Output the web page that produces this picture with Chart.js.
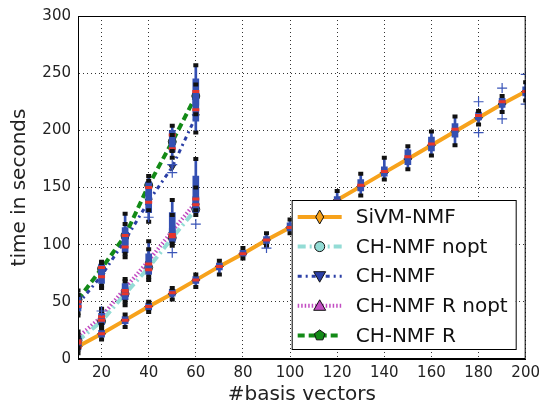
<!DOCTYPE html>
<html>
<head>
<meta charset="utf-8">
<script src="https://cdn.jsdelivr.net/npm/chart.js@4.4.1/dist/chart.umd.min.js"></script>
<style>
  html, body { margin: 0; padding: 0; background: #fff; }
  canvas { display: block; }
</style>
</head>
<body>
<canvas id="timeChart" width="545" height="415"></canvas>
<script>
// x positions (#basis vectors)
const sivmX = [10, 20, 30, 40, 50, 60, 70, 80, 90, 100, 110, 120, 130, 140, 150, 160, 170, 180, 190, 200];
const chX = [10, 20, 30, 40, 50, 60];
const xTicks = [20, 40, 60, 80, 100, 120, 140, 160, 180, 200];

// SiVM-NMF
const sivmMean = [11, 22, 34, 46, 57, 69, 81, 92, 104, 115, 127, 139, 151, 163, 175, 187, 199, 211, 223, 234];
const sivmLo   = [5, 17, 28, 41, 52, 63, 74, 88, 99, 110, 120, 132, 143, 157, 166, 178, 187, 205, 216, 226];
const sivmQ1   = [8, 19, 31, 43, 55, 66, 78, 90, 101, 112, 124, 135, 147, 160, 170, 182, 194, 209, 220, 230];
const sivmMed  = [10, 22, 34, 46, 58, 69, 81, 92, 104, 115, 127, 138, 152, 164, 177, 188, 201, 213, 225, 234];
const sivmQ3   = [14, 25, 37, 49, 61, 72, 84, 95, 107, 119, 131, 142, 157, 168, 183, 194, 206, 216, 228, 238];
const sivmHi   = [19, 28, 39, 50, 62, 74, 86, 97, 110, 122, 134, 147, 162, 176, 186, 199, 212, 217, 230, 242];

// CH-NMF nopt
const nopMean = [16, 33, 57, 80, 106, 131];
const nopLo   = [8, 27, 47, 69, 99, 126];
const nopQ1   = [11, 30, 52, 74, 102, 128];
const nopMed  = [14, 34, 57, 78, 107, 135];
const nopQ3   = [18, 38, 62, 84, 114, 142];
const nopHi   = [21, 42, 68, 96, 126, 150];

// CH-NMF
const chMean = [48, 73, 104, 138, 168, 212];
const chLo   = [38, 62, 89, 120, 176, 198];
const chQ1   = [42, 66, 93, 128, 181, 208];
const chMed  = [46, 72, 98, 137, 184, 218];
const chQ3   = [52, 78, 105, 146, 190, 228];
const chHi   = [56, 84, 118, 156, 196, 240];

// CH-NMF R nopt
const rnopMean = [19, 37, 62, 86, 112, 137];
const rnopLo   = [10, 30, 50, 72, 101, 130];
const rnopQ1   = [13, 33, 55, 78, 105, 134];
const rnopMed  = [16, 37, 60, 83, 109, 140];
const rnopQ3   = [20, 40, 66, 92, 128, 160];
const rnopHi   = [24, 44, 70, 103, 139, 175];

// CH-NMF R
const rMean = [52, 79, 108, 152, 190, 230];
const rLo   = [40, 64, 92, 130, 182, 214];
const rQ1   = [44, 74, 100, 143, 188, 222];
const rMed  = [50, 80, 108, 150, 196, 234];
const rQ3   = [56, 83, 115, 155, 200, 245];
const rHi   = [60, 85, 127, 160, 204, 257];

// outliers (+)
const outX = [20, 40, 50, 50, 50, 60, 90, 180, 180, 190, 190, 200, 200];
const outY = [42, 124, 170, 163, 93, 118, 97, 225, 198, 237, 210, 249, 223];

const BOX_BLUE = '#3450b2';
const pts = (xs, ys) => xs.map((x, i) => ({ x: x, y: ys[i] }));
const rng = (xs, a, b) => xs.map((x, i) => ({ x: x, y: [a[i], b[i]] }));

function lineSet(label, xs, ys, color, width, dash, marker, pointStyle, rotation) {
    return {
        type: 'line', label: label, data: pts(xs, ys),
        borderColor: color, borderWidth: width, borderDash: dash,
        pointStyle: pointStyle, pointRotation: rotation || 0, pointRadius: 4,
        pointBackgroundColor: color, pointBorderColor: '#222', pointBorderWidth: 1,
        fill: false, tension: 0, order: 10, legendMarker: marker
    };
}

function boxSets(xs, lo, q1, med, q3, hi) {
    return [
        { type: 'bar', data: rng(xs, lo, hi), backgroundColor: BOX_BLUE, barThickness: 2, grouped: false, order: 8 },
        { type: 'bar', data: rng(xs, q1, q3), backgroundColor: BOX_BLUE, barThickness: 6, grouped: false, order: 7 },
        { type: 'scatter', data: pts(xs, med), pointStyle: 'line', pointRadius: 3.5, borderColor: '#e6352b', borderWidth: 3, order: 6 },
        { type: 'scatter', data: pts(xs, lo).concat(pts(xs, hi)), pointStyle: 'line', pointRadius: 2.5, borderColor: '#111', borderWidth: 4, order: 5 }
    ];
}

function drawMarker(ctx, kind, x, y, color) {
    ctx.beginPath();
    if (kind === 'diamond') {
        ctx.moveTo(x, y - 7); ctx.lineTo(x + 4, y); ctx.lineTo(x, y + 7); ctx.lineTo(x - 4, y);
    } else if (kind === 'circle') {
        ctx.arc(x, y, 5, 0, Math.PI * 2);
    } else if (kind === 'tridown') {
        ctx.moveTo(x - 6, y - 4.5); ctx.lineTo(x + 6, y - 4.5); ctx.lineTo(x, y + 6);
    } else if (kind === 'triup') {
        ctx.moveTo(x - 6, y + 4.5); ctx.lineTo(x + 6, y + 4.5); ctx.lineTo(x, y - 6);
    } else {
        for (let k = 0; k < 5; k++) {
            const a = -Math.PI / 2 + k * 2 * Math.PI / 5;
            const px = x + 5.5 * Math.cos(a), py = y + 5.5 * Math.sin(a);
            if (k === 0) ctx.moveTo(px, py); else ctx.lineTo(px, py);
        }
    }
    ctx.closePath();
    ctx.fillStyle = color;
    ctx.fill();
    ctx.lineWidth = 1;
    ctx.strokeStyle = '#111';
    ctx.stroke();
}

// frame + legend box drawn on top
const framePlugin = {
    id: 'frameLegend',
    afterDraw(chart) {
        const ctx = chart.ctx;
        const a = chart.chartArea;
        ctx.save();
        ctx.strokeStyle = '#000';
        ctx.lineWidth = 1;
        ctx.strokeRect(a.left + 0.5, a.top + 0.5, a.right - a.left - 1, a.bottom - a.top - 1);

        const w = 224, h = 149;
        const lx = a.right - 10 - w, ly = a.bottom - 10 - h;
        ctx.fillStyle = '#fff';
        ctx.fillRect(lx, ly, w, h);
        ctx.strokeRect(lx + 0.5, ly + 0.5, w, h);

        const items = chart.data.datasets.filter(d => d.legendMarker);
        items.forEach((d, i) => {
            const y = ly + 17 + i * 29.6;
            ctx.setLineDash(d.borderDash || []);
            ctx.strokeStyle = d.borderColor;
            ctx.lineWidth = d.borderWidth;
            ctx.beginPath();
            ctx.moveTo(lx + 6, y);
            ctx.lineTo(lx + 50, y);
            ctx.stroke();
            ctx.setLineDash([]);
            drawMarker(ctx, d.legendMarker, lx + 28, y, d.borderColor);
            ctx.fillStyle = '#111';
            ctx.font = '20px "DejaVu Sans"';
            ctx.textBaseline = 'middle';
            ctx.fillText(d.label, lx + 64, y + 1);
        });
        ctx.restore();
    }
};

Chart.defaults.font.family = '"DejaVu Sans", sans-serif';
Chart.defaults.color = '#222';

const datasets = [
    lineSet('SiVM-NMF', sivmX, sivmMean, '#f7a21b', 4, [], 'diamond', 'rectRot'),
    lineSet('CH-NMF nopt', chX, nopMean, '#93dcd5', 4, [8, 4, 2, 4], 'circle', 'circle'),
    lineSet('CH-NMF', chX, chMean, '#2b3fa6', 3, [4, 4, 2, 4], 'tridown', 'triangle', 180),
    lineSet('CH-NMF R nopt', chX, rnopMean, '#c24dc2', 4, [1.5, 2], 'triup', 'triangle'),
    lineSet('CH-NMF R', chX, rMean, '#138a17', 4, [7, 4], 'pentagon', 'circle')
]
.concat(boxSets(sivmX, sivmLo, sivmQ1, sivmMed, sivmQ3, sivmHi))
.concat(boxSets(chX, nopLo, nopQ1, nopMed, nopQ3, nopHi))
.concat(boxSets(chX, chLo, chQ1, chMed, chQ3, chHi))
.concat(boxSets(chX, rnopLo, rnopQ1, rnopMed, rnopQ3, rnopHi))
.concat(boxSets(chX, rLo, rQ1, rMed, rQ3, rHi))
.concat([{ type: 'scatter', data: pts(outX, outY), pointStyle: 'cross', pointRadius: 5, borderColor: '#3a55b8', borderWidth: 1.2, order: 4 }]);

new Chart(document.getElementById('timeChart'), {
    type: 'bar',
    data: { datasets: datasets },
    options: {
        responsive: false,
        animation: false,
        layout: { padding: { top: 13, right: 19, left: 0, bottom: 0 } },
        plugins: { legend: { display: false }, tooltip: { enabled: false } },
        scales: {
            x: {
                type: 'linear', min: 10, max: 200, offset: false,
                afterBuildTicks: s => { s.ticks = xTicks.map(v => ({ value: v })); },
                afterFit: s => { s.height = 56; },
                grid: { color: '#333', lineWidth: 1, drawTicks: false, offset: false },
                border: { color: '#000', dash: [1, 3] },
                ticks: { font: { size: 15 }, padding: 5, maxRotation: 0 },
                title: { display: true, text: '#basis vectors', font: { size: 20 }, padding: { top: 0, bottom: 8 } }
            },
            y: {
                type: 'linear', min: 0, max: 300,
                afterFit: s => { s.width = 78; },
                grid: { color: '#333', lineWidth: 1, drawTicks: false },
                border: { color: '#000', dash: [1, 3] },
                ticks: { stepSize: 50, font: { size: 15 }, padding: 7 },
                title: { display: true, text: 'time in seconds', font: { size: 20 }, padding: { top: 8, bottom: 0 } }
            }
        }
    },
    plugins: [framePlugin]
});
</script>
</body>
</html>
